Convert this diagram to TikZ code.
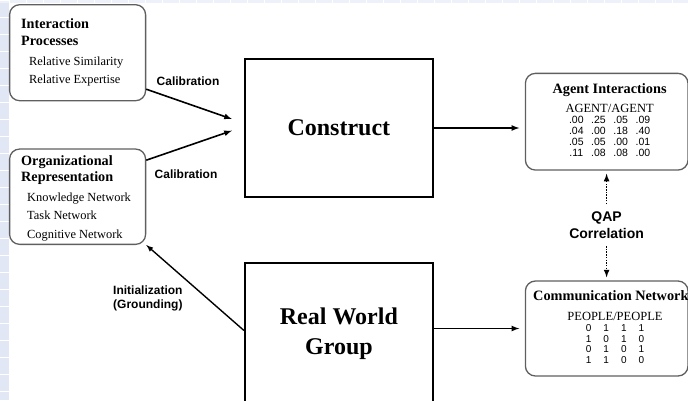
\documentclass[tikz,border=0pt]{standalone}
\usepackage{fontspec}
\setmainfont{Liberation Serif}
\setsansfont{Liberation Sans}
\usepackage{tikz}

\definecolor{gridblue}{RGB}{226,231,246}
\definecolor{boxgray}{RGB}{95,95,95}

\begin{document}
\begin{tikzpicture}[x=1pt, y=-1pt, >=latex,
  roundbox/.style={draw=boxgray, line width=1.3pt, rounded corners=10pt},
  modelbox/.style={draw, line width=1.8pt, align=center,
    font=\fontsize{24}{29.7}\selectfont\bfseries},
  headtext/.style={font=\fontsize{14.2}{16.7}\selectfont\bfseries, align=left, inner sep=0pt},
  itemtext/.style={font=\fontsize{12.4}{18.4}\selectfont, align=left, inner sep=0pt},
  titletext/.style={font=\fontsize{14.3}{16}\selectfont\bfseries, inner sep=0pt},
  armtext/.style={font=\sffamily\bfseries\fontsize{12}{14}\selectfont, align=left, inner sep=0pt},
  flow/.style={->, line width=1.6pt},
  qaplink/.style={->, line width=1.6pt, dash pattern=on 1.5pt off 1.2pt}]
  \useasboundingbox (0,0) rectangle (688,400);

  % Slide background
  \fill[gridblue] (0,0) rectangle (9,400);
  \fill[gridblue!60] (0,0) rectangle (688,3);
  \foreach \yy in {0,17,...,400}
    \draw[white, line width=1pt] (0,\yy) -- (9,\yy);
  \foreach \xx in {9,26,...,688}
    \draw[white, line width=1pt] (\xx,0) -- (\xx,3);

  % Input boxes
  \node[roundbox, minimum width=136, minimum height=96] (intbox) at (77.6,52.7) {};
  \node[headtext, anchor=west] (inthead) at (21,32.4) {Interaction\\Processes};
  \node[itemtext, anchor=west] (intitems) at (29,71.3) {Relative Similarity\\Relative Expertise};

  \node[roundbox, minimum width=136, minimum height=95.3] (orgbox) at (77.6,196.7) {};
  \node[headtext, anchor=west] (orghead) at (21,170) {Organizational\\Representation};
  \node[itemtext, anchor=west] (orgitems) at (27,216.7) {Knowledge Network\\Task Network\\Cognitive Network};

  % Model and real group
  \node[modelbox, minimum width=188.3, minimum height=138.6] (construct) at (338.9,128) {Construct};
  \node[modelbox, minimum width=188.3, minimum height=141.3] (realbox) at (338.9,333.4) {Real World\\Group};

  % Result boxes
  \node[roundbox, minimum width=162.6, minimum height=96.7] (agentbox) at (606.7,121.7) {};
  \node[titletext] (agenttitle) at (609.6,90) {Agent Interactions};
  \node[inner sep=0pt] (agentmat) at (609.6,132) {%
    \fontsize{10.5}{11}\selectfont\sffamily\setlength\tabcolsep{3.8pt}%
    \begin{tabular}{@{}cccc@{}}
      \multicolumn{4}{c}{\makebox[0pt][c]{\rmfamily\fontsize{12.5}{11}\selectfont AGENT/AGENT}}\\
      .00 & .25 & .05 & .09\\
      .04 & .00 & .18 & .40\\
      .05 & .05 & .00 & .01\\
      .11 & .08 & .08 & .00
    \end{tabular}};

  \node[roundbox, minimum width=162.6, minimum height=95] (commbox) at (606.7,328.5) {};
  \node[titletext, anchor=west] (commtitle) at (533,296) {Communication Network};
  \node[inner sep=0pt] (commmat) at (615,339.7) {%
    \fontsize{10}{10.7}\selectfont\sffamily\setlength\tabcolsep{6pt}%
    \begin{tabular}{@{}cccc@{}}
      \multicolumn{4}{c}{\makebox[0pt][c]{\rmfamily\fontsize{12.5}{10.7}\selectfont PEOPLE/PEOPLE}}\\
      0 & 1 & 1 & 1\\
      1 & 0 & 1 & 0\\
      0 & 1 & 0 & 1\\
      1 & 1 & 0 & 0
    \end{tabular}};

  \node[armtext, align=center, font=\sffamily\bfseries\fontsize{14}{16.7}\selectfont] (qap) at (606.6,225.5) {QAP\\Correlation};

  % Labels
  \node[armtext] (calibA) at (188,81) {Calibration};
  \node[armtext] (calibB) at (186,174) {Calibration};
  \node[armtext, anchor=west] (initlabel) at (113,298) {Initialization\\(Grounding)};

  % Arrows
  \coordinate (calA) at ([shift={(-12pt,9pt)}]construct.west);
  \coordinate (calB) at ([shift={(-12pt,-2.7pt)}]construct.west);
  \draw[flow] (intbox.-28) -- (calA);
  \draw[flow] (orgbox.28) -- (calB);
  \draw[flow, shorten >=5.5pt] (construct.east) -- (construct.east -| agentbox.west);
  \draw[flow, shorten >=5.5pt] (commbox.west -| realbox.east) -- (commbox.west);
  \draw[->, line width=1.4pt] ([yshift=3pt]realbox.west) -- (orgbox.south east);

  % QAP links
  \draw[qaplink, shorten <=8pt, shorten >=3pt] (qap.north) -- (qap.north |- agentbox.south);
  \draw[qaplink, shorten <=7pt, shorten >=3pt] (qap.south) -- (qap.south |- commbox.north);
\end{tikzpicture}
\end{document}
